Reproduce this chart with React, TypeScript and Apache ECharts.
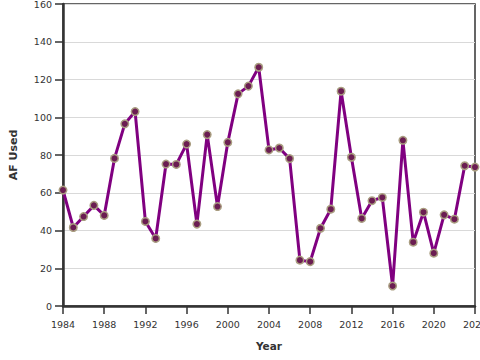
import React, { useEffect, useRef } from "react";
import * as echarts from "echarts";

const years: number[] = [
  1984, 1985, 1986, 1987, 1988, 1989, 1990, 1991, 1992, 1993,
  1994, 1995, 1996, 1997, 1998, 1999, 2000, 2001, 2002, 2003,
  2004, 2005, 2006, 2007, 2008, 2009, 2010, 2011, 2012, 2013,
  2014, 2015, 2016, 2017, 2018, 2019, 2020, 2021, 2022, 2023, 2024,
];

const afUsed: number[] = [
  61.4, 41.6, 47.4, 53.3, 48, 78.2, 96.5, 103, 44.8, 35.8,
  75.2, 75, 85.8, 43.4, 90.8, 52.7, 86.7, 112.4, 116.5, 126.5,
  82.7, 83.7, 78.1, 24.3, 23.5, 41.2, 51.3, 113.8, 78.8, 46.4,
  55.8, 57.5, 10.6, 87.8, 33.8, 49.7, 28, 48.3, 46, 74.3, 73.6,
];

const xTitle = "Year";
const yTitle = "AF Used";

export default function App() {
  const ref = useRef<HTMLDivElement>(null);
  useEffect(() => {
    if (!ref.current) return;
    document.body.style.margin = "0";
    document.body.style.overflow = "hidden";
    const chart = echarts.init(ref.current, undefined, { renderer: "svg", width: 480, height: 360 });
    const font = "DejaVu Sans";
    chart.setOption({
      animation: false,
      backgroundColor: "#ffffff",
      grid: {
        left: 63,
        right: 5,
        top: 4,
        bottom: 54,
        containLabel: false,
        outerBoundsMode: "none",
        show: true,
        borderColor: "#333333",
        borderWidth: 1.5,
        backgroundColor: "transparent",
      },
      xAxis: {
        type: "value",
        min: 1984,
        max: 2024,
        interval: 4,
        name: xTitle,
        nameLocation: "middle",
        nameGap: 34,
        nameTextStyle: { fontFamily: font, fontSize: 10.5, fontWeight: "bold", color: "#333333" },
        axisLine: { show: true, onZero: false, lineStyle: { color: "#333333", width: 2.5 } },
        axisTick: { show: true, length: 8, lineStyle: { color: "#333333", width: 1.5 } },
        axisLabel: {
          fontFamily: font,
          fontSize: 9.5,
          color: "#333333",
          margin: 13,
          hideOverlap: false,
          formatter: (v: number) => String(v),
        },
        splitLine: { show: false },
      },
      yAxis: {
        type: "value",
        min: 0,
        max: 160,
        interval: 20,
        name: yTitle,
        nameLocation: "middle",
        nameGap: 44,
        nameRotate: 90,
        nameTextStyle: { fontFamily: font, fontSize: 11, fontWeight: "bold", color: "#333333" },
        axisLine: { show: true, lineStyle: { color: "#333333", width: 2.5 } },
        axisTick: { show: true, length: 8, lineStyle: { color: "#333333", width: 1.5 } },
        axisLabel: { fontFamily: font, fontSize: 9.5, color: "#333333", margin: 11 },
        splitLine: { show: true, lineStyle: { color: "#d9d9d9", width: 1 } },
      },
      series: [
        {
          type: "line",
          data: years.map((y, i) => [y, afUsed[i]]),
          lineStyle: { color: "#800080", width: 3 },
          symbol: "circle",
          symbolSize: 7.5,
          itemStyle: { color: "#6b1d52", borderColor: "#a99d80", borderWidth: 1.5 },
          clip: false,
        },
      ],
    });
    return () => chart.dispose();
  }, []);
  return <div ref={ref} style={{ width: 480, height: 360, position: "absolute", left: 0, top: 0, overflow: "hidden" }} />;
}
